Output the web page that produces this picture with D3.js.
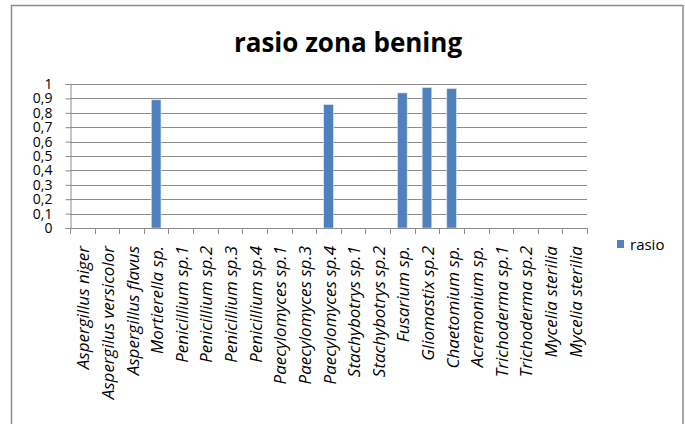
<!DOCTYPE html>
<html>
<head>
<meta charset="utf-8">
<script src="https://cdn.jsdelivr.net/npm/d3@7"></script>
<style>
  body { margin: 0; background: #fff; }
  text { font-family: "Open Sans", Lato, sans-serif; fill: #000; }
</style>
</head>
<body>
<div class="chart"></div>
<script>
// data
const categories = [
  'Aspergillus niger', 'Aspergilus versicolor', 'Aspergillus flavus', 'Mortierella sp.',
  'Penicillium sp.1', 'Penicillium sp.2', 'Penicillium sp.3', 'Penicillium sp.4',
  'Paecylomyces sp.1', 'Paecylomyces sp.3', 'Paecylomyces sp.4', 'Stachybotrys sp.1',
  'Stachybotrys sp.2', 'Fusarium sp.', 'Gliomastix sp.2', 'Chaetomium sp.',
  'Acremonium sp.', 'Trichoderma sp.1', 'Trichoderma sp.2', 'Mycelia sterilia', 'Mycelia sterilia'
];
const rasio = [0, 0, 0, 0.89, 0, 0, 0, 0, 0, 0, 0.857, 0, 0, 0.938, 0.975, 0.968, 0, 0, 0, 0, 0];
const yTicks = [0, 0.1, 0.2, 0.3, 0.4, 0.5, 0.6, 0.7, 0.8, 0.9, 1];

const width = 685;
const height = 424;
const margin = {left: 70, top: 84, right: 98, bottom: 196};

const svg = d3.select('.chart')
  .append('svg')
  .attr('width', width)
  .attr('height', height);

// outer frame
svg.append('rect')
  .attr('x', 11.5)
  .attr('y', 5.5)
  .attr('width', 671.5)
  .attr('height', 430)
  .attr('fill', 'none')
  .attr('stroke', '#8c8c8c')
  .attr('stroke-width', 1.5);

svg.append('text')
  .attr('x', 348)
  .attr('y', 52)
  .attr('text-anchor', 'middle')
  .style('font-size', '26px')
  .style('font-weight', 'bold')
  .text('rasio zona bening');

const x = d3.scaleBand()
  .domain(d3.range(categories.length))
  .range([margin.left, width - margin.right])
  .paddingInner(0.61)
  .paddingOuter(0.305);

const y = d3.scaleLinear()
  .domain([0, 1])
  .range([height - margin.bottom, margin.top]);

// gridlines
svg.append('g')
  .selectAll('line')
  .data(yTicks)
  .enter()
    .append('line')
    .attr('x1', margin.left)
    .attr('x2', width - margin.right)
    .attr('y1', d => Math.round(y(d)) + 0.5)
    .attr('y2', d => Math.round(y(d)) + 0.5)
    .attr('stroke', '#8c8c8c');

// y axis
const yAxis = svg.append('g')
  .attr('transform', `translate(${margin.left + 0.5},0)`)
  .call(d3.axisLeft(y).tickValues(yTicks).tickSize(5).tickPadding(13)
    .tickFormat(d => d3.format('.1~f')(d).replace('.', ',')));
yAxis.select('.domain').attr('stroke', '#8c8c8c');
yAxis.selectAll('.tick line').attr('stroke', '#8c8c8c');
yAxis.selectAll('.tick text')
  .style('font-size', '14px')
  .style('font-family', '"Open Sans", Lato, sans-serif')
  .attr('fill', '#000');

// bars
svg.append('g')
  .selectAll('rect')
  .data(rasio)
  .enter()
    .append('rect')
    .attr('x', (d, i) => x(i))
    .attr('y', d => y(d))
    .attr('width', x.bandwidth())
    .attr('height', d => y(0) - y(d))
    .attr('fill', '#4f81bd')
    .attr('stroke', '#dbe5f1')
    .attr('stroke-width', 0.6);

// x axis with ticks at category boundaries
const step = x.step();
const bounds = d3.range(categories.length + 1).map(i => margin.left + i * step);
const xAxis = svg.append('g');
xAxis.append('line')
  .attr('x1', margin.left)
  .attr('x2', width - margin.right)
  .attr('y1', y(0) + 0.5)
  .attr('y2', y(0) + 0.5)
  .attr('stroke', '#8c8c8c');
xAxis.selectAll('.bt')
  .data(bounds)
  .enter()
    .append('line')
    .attr('class', 'bt')
    .attr('x1', d => Math.round(d) + 0.5)
    .attr('x2', d => Math.round(d) + 0.5)
    .attr('y1', y(0))
    .attr('y2', y(0) + 6)
    .attr('stroke', '#8c8c8c');

xAxis.selectAll('.lbl')
  .data(categories)
  .enter()
    .append('text')
    .attr('class', 'lbl')
    .attr('transform', (d, i) => `translate(${x(i) + x.bandwidth() / 2 + 7},${y(0) + 18}) rotate(-90)`)
    .attr('text-anchor', 'end')
    .style('font-size', '17px')
    .style('font-style', 'italic')
    .text(d => d);

// legend
const legend = svg.append('g');
legend.append('rect')
  .attr('x', 617)
  .attr('y', 240)
  .attr('width', 7)
  .attr('height', 8)
  .attr('fill', '#4f81bd');
legend.append('text')
  .attr('x', 630)
  .attr('y', 250)
  .style('font-size', '15px')
  .text('rasio');
</script>
</body>
</html>
